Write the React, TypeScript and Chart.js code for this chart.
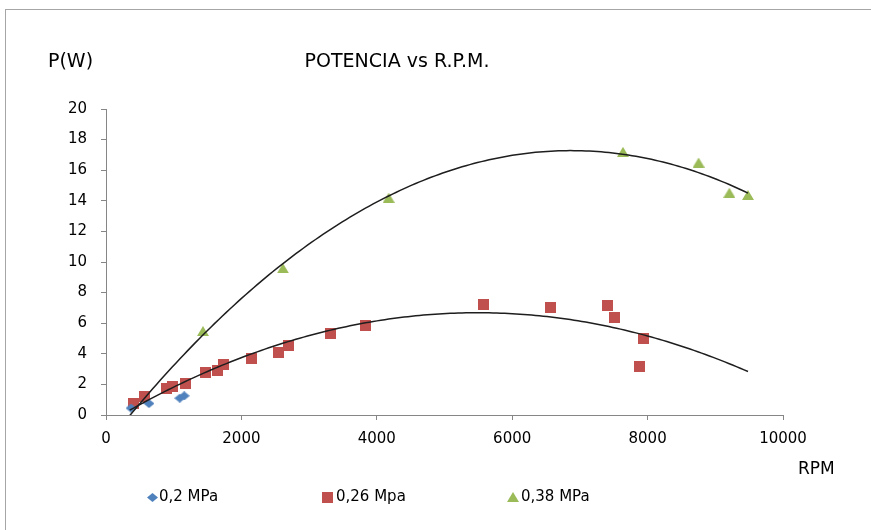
import React, { useEffect, useRef } from "react";
import { Chart, registerables } from "chart.js";

Chart.register(...registerables);

// ---- data ----
const seriesLabels = ["0,2 MPa", "0,26 Mpa", "0,38 MPa"];
const seriesColors = ["#4F81BD", "#C0504D", "#9BBB59"];

const blueX = [370, 635, 1090, 1155];
const blueY = [0.45, 0.75, 1.1, 1.25];

const redX = [408, 570, 891, 975, 1171, 1467, 1648, 1737, 2142, 2541, 2697, 3313, 3830, 5578, 6573, 7409, 7504, 7941, 7882];
const redY = [0.76, 1.24, 1.7, 1.85, 2.07, 2.76, 2.94, 3.27, 3.71, 4.1, 4.53, 5.34, 5.82, 7.24, 7.04, 7.14, 6.39, 5.01, 3.2];

const greenX = [1432, 2614, 4175, 7636, 8753, 9207, 9483];
const greenY = [5.49, 9.59, 14.2, 17.2, 16.5, 14.53, 14.38];

const xTicks = [0, 2000, 4000, 6000, 8000, 10000];
const yTicks = [0, 2, 4, 6, 8, 10, 12, 14, 16, 18, 20];
const trendRange = [350, 9483];

const chartTitle = "POTENCIA vs R.P.M.";
const yTitle = "P(W)";
const xTitle = "RPM";

// ---- helpers ----
function fitQuad(xs: number[], ys: number[]): number[] {
  // least squares y = c0 + c1 t + c2 t^2, t = x/1000
  const S = [0, 0, 0, 0, 0];
  const T = [0, 0, 0];
  for (let i = 0; i < xs.length; i++) {
    const t = xs[i] / 1000;
    let p = 1;
    for (let k = 0; k < 5; k++) {
      S[k] += p;
      if (k < 3) T[k] += p * ys[i];
      p *= t;
    }
  }
  const A = [
    [S[0], S[1], S[2], T[0]],
    [S[1], S[2], S[3], T[1]],
    [S[2], S[3], S[4], T[2]],
  ];
  for (let c = 0; c < 3; c++) {
    let piv = c;
    for (let r = c + 1; r < 3; r++) if (Math.abs(A[r][c]) > Math.abs(A[piv][c])) piv = r;
    [A[c], A[piv]] = [A[piv], A[c]];
    for (let r = 0; r < 3; r++) {
      if (r === c) continue;
      const f = A[r][c] / A[c][c];
      for (let k = c; k < 4; k++) A[r][k] -= f * A[c][k];
    }
  }
  return [A[0][3] / A[0][0], A[1][3] / A[1][1], A[2][3] / A[2][2]];
}

function trendPoints(xs: number[], ys: number[]) {
  const c = fitQuad(xs, ys);
  const pts: { x: number; y: number }[] = [];
  const n = 160;
  for (let i = 0; i <= n; i++) {
    const x = trendRange[0] + ((trendRange[1] - trendRange[0]) * i) / n;
    const t = x / 1000;
    pts.push({ x, y: c[0] + c[1] * t + c[2] * t * t });
  }
  return pts;
}

function makeMarker(kind: string, color: string): HTMLCanvasElement {
  const cv = document.createElement("canvas");
  const ctx = cv.getContext("2d")!;
  if (kind === "diamond") {
    cv.width = 11;
    cv.height = 9;
    ctx.fillStyle = color;
    ctx.beginPath();
    ctx.moveTo(5.5, 0);
    ctx.lineTo(11, 4.5);
    ctx.lineTo(5.5, 9);
    ctx.lineTo(0, 4.5);
    ctx.closePath();
    ctx.fill();
  } else if (kind === "square") {
    cv.width = 11;
    cv.height = 11;
    ctx.fillStyle = color;
    ctx.fillRect(0, 0, 11, 11);
  } else {
    cv.width = 12;
    cv.height = 10;
    ctx.fillStyle = color;
    ctx.beginPath();
    ctx.moveTo(6, 0);
    ctx.lineTo(12, 10);
    ctx.lineTo(0, 10);
    ctx.closePath();
    ctx.fill();
  }
  return cv;
}

const FONT = "'DejaVu Sans', sans-serif";

export default function App() {
  const ref = useRef<HTMLCanvasElement | null>(null);

  useEffect(() => {
    if (!ref.current) return;
    const markers = [
      makeMarker("diamond", seriesColors[0]),
      makeMarker("square", seriesColors[1]),
      makeMarker("triangle", seriesColors[2]),
    ];
    const toPts = (xs: number[], ys: number[]) => xs.map((x, i) => ({ x, y: ys[i] }));

    const overlay = {
      id: "overlay",
      beforeDraw(chart: any) {
        const ctx = chart.ctx;
        ctx.save();
        ctx.fillStyle = "#ffffff";
        ctx.fillRect(0, 0, chart.width, chart.height);
        ctx.strokeStyle = "#a6a6a6";
        ctx.lineWidth = 1;
        ctx.strokeRect(5.5, 9.5, chart.width + 20, chart.height + 20);
        ctx.restore();
      },
      afterDraw(chart: any) {
        const ctx = chart.ctx;
        ctx.save();
        ctx.fillStyle = "#000000";
        ctx.textBaseline = "middle";
        ctx.font = `19px ${FONT}`;
        ctx.textAlign = "center";
        ctx.fillText(chartTitle, 397, 62);
        ctx.textAlign = "left";
        ctx.fillText(yTitle, 48, 62);
        ctx.font = `17px ${FONT}`;
        ctx.fillText(xTitle, 798, 470);
        // legend
        ctx.font = `15px ${FONT}`;
        const mx = [152, 327, 513];
        const tx = [159, 336, 521];
        for (let i = 0; i < 3; i++) {
          const m = markers[i];
          ctx.drawImage(m, Math.round(mx[i] - m.width / 2), Math.round(497 - m.height / 2));
          ctx.fillText(seriesLabels[i], tx[i], 497);
        }
        ctx.restore();
      },
    };

    const chart = new Chart(ref.current, {
      type: "scatter",
      data: {
        datasets: [
          {
            label: "trend-0,26",
            data: trendPoints(redX, redY),
            showLine: true,
            borderColor: "#1e1e1e",
            borderWidth: 1.5,
            pointRadius: 0,
            order: 0,
          },
          {
            label: "trend-0,38",
            data: trendPoints(greenX, greenY),
            showLine: true,
            borderColor: "#1e1e1e",
            borderWidth: 1.5,
            pointRadius: 0,
            order: 0,
          },
          {
            label: seriesLabels[0],
            data: toPts(blueX, blueY),
            pointStyle: markers[0],
            backgroundColor: seriesColors[0],
            clip: false,
            order: 1,
          },
          {
            label: seriesLabels[1],
            data: toPts(redX, redY),
            pointStyle: markers[1],
            backgroundColor: seriesColors[1],
            clip: false,
            order: 1,
          },
          {
            label: seriesLabels[2],
            data: toPts(greenX, greenY),
            pointStyle: markers[2],
            backgroundColor: seriesColors[2],
            clip: false,
            order: 1,
          },
        ] as any,
      },
      options: {
        animation: false,
        responsive: false,
        layout: { padding: { left: 0, top: 109, right: 88, bottom: 75 } },
        plugins: { legend: { display: false }, title: { display: false }, tooltip: { enabled: false } },
        scales: {
          x: {
            type: "linear",
            min: 0,
            max: 10000,
            afterBuildTicks: (s: any) => {
              s.ticks = xTicks.map((v) => ({ value: v }));
            },
            afterFit: (s: any) => {
              s.height = 40;
            },
            ticks: {
              color: "#000",
              font: { family: FONT, size: 15 },
              padding: 10,
              maxRotation: 0,
              callback: (v: any) => String(v),
            },
            grid: { drawOnChartArea: false, drawTicks: true, tickLength: 5, color: "#868686" },
            border: { color: "#868686" },
          },
          y: {
            type: "linear",
            min: 0,
            max: 20,
            afterBuildTicks: (s: any) => {
              s.ticks = yTicks.map((v) => ({ value: v }));
            },
            afterFit: (s: any) => {
              s.width = 106;
            },
            ticks: { color: "#000", font: { family: FONT, size: 15 }, padding: 14, callback: (v: any) => String(v) },
            grid: { drawOnChartArea: false, drawTicks: true, tickLength: 5, color: "#868686" },
            border: { color: "#868686" },
          },
        },
      },
      plugins: [overlay],
    } as any);
    return () => chart.destroy();
  }, []);

  return (
    <div style={{ position: "absolute", left: 0, top: 0, width: 871, height: 530 }}>
      <canvas ref={ref} width={871} height={530} style={{ display: "block" }} />
    </div>
  );
}
